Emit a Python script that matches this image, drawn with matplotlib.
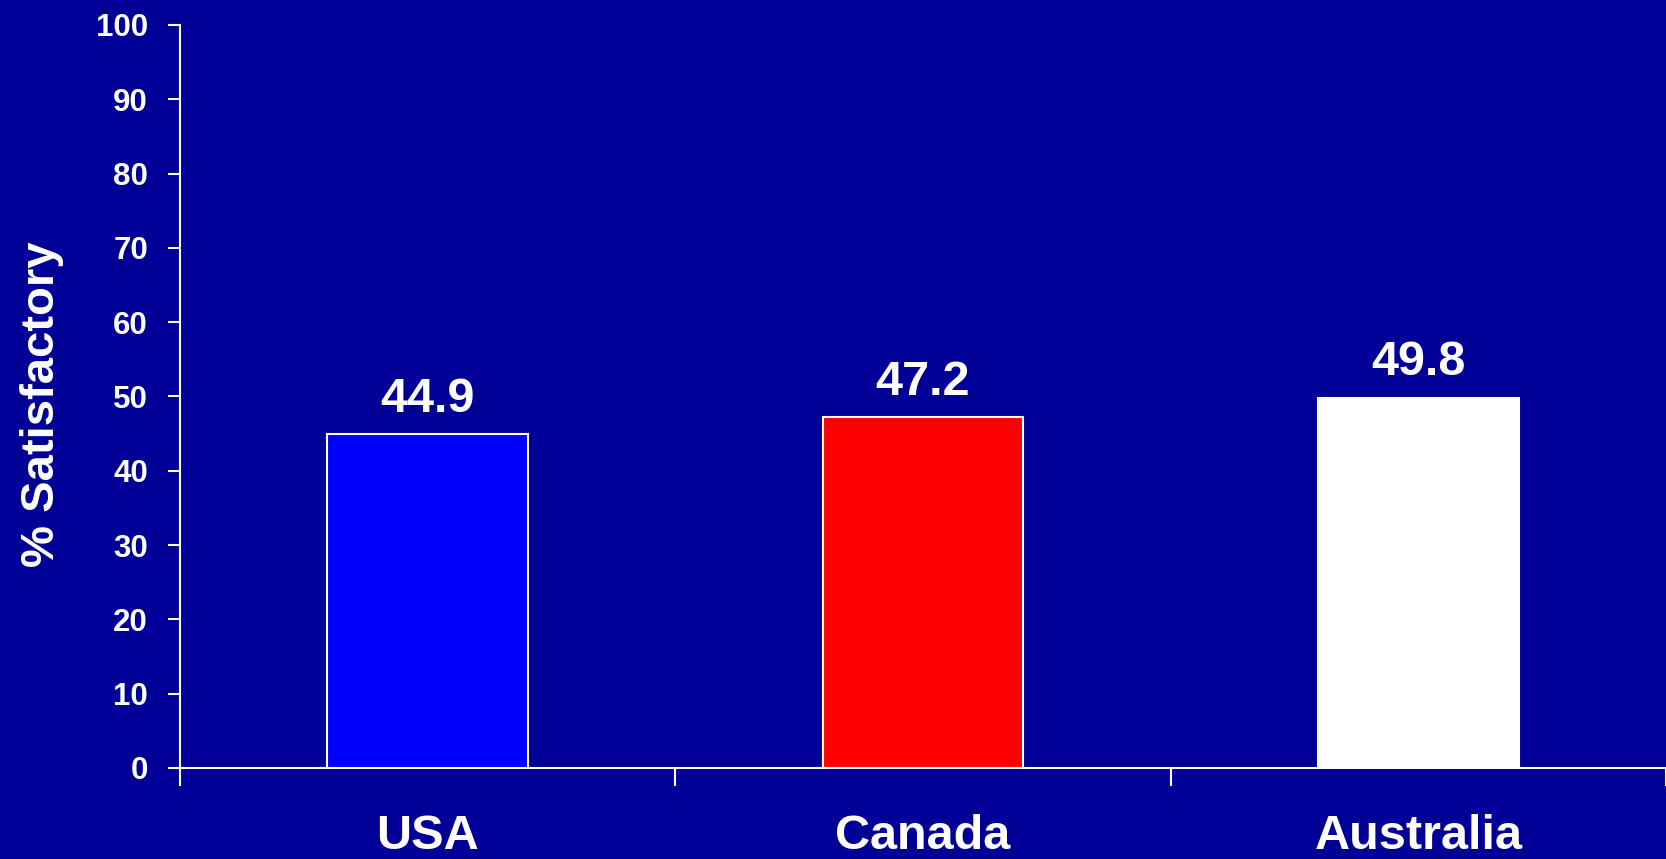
import matplotlib
matplotlib.use("Agg")
import matplotlib.pyplot as plt

countries = ["USA", "Canada", "Australia"]
values = [44.9, 47.2, 49.8]
bar_colors = ["#0000FF", "#FF0000", "#FFFFFF"]
yticks = [0, 10, 20, 30, 40, 50, 60, 70, 80, 90, 100]

bg = "#000096"
plt.rcParams["font.family"] = ["Liberation Sans", "DejaVu Sans"]
plt.rcParams["font.weight"] = "bold"

fig = plt.figure(figsize=(16.66, 8.59), dpi=100, facecolor=bg)
ax = fig.add_axes([0.108, 0.106, 0.892, 0.865], facecolor=bg)

x = range(len(countries))
ax.bar(x, values, width=0.405, color=bar_colors, edgecolor="white", linewidth=1.5, zorder=3)

# value labels above the bars
for i, v in enumerate(values):
    ax.text(i, v + 1.7, "{0:.1f}".format(v), ha="center", va="bottom",
            color="white", fontsize=35, fontweight="bold")

ax.set_xlim(-0.5, 2.47)
ax.set_ylim(0, 100)
ax.set_yticks(yticks)
ax.set_xticks(list(x))
ax.set_xticklabels(countries)
ax.set_xticks([-0.5, 0.5, 1.5, 2.5], minor=True)

for s in ["top", "right"]:
    ax.spines[s].set_visible(False)
for s in ["left", "bottom"]:
    ax.spines[s].set_color("white")
    ax.spines[s].set_linewidth(1.5)

ax.tick_params(axis="y", colors="white", labelsize=22.5, length=9, width=1.5, pad=14)
ax.tick_params(axis="x", which="major", colors="white", labelsize=35, length=0, pad=33)
ax.tick_params(axis="x", which="minor", colors="white", length=13, width=1.5)

ax.set_ylabel("% Satisfactory", color="white", fontsize=34, fontweight="bold", labelpad=23)
ax.yaxis.label.set_y(0.49)

fig.savefig("out.png", dpi=100, facecolor=bg)
